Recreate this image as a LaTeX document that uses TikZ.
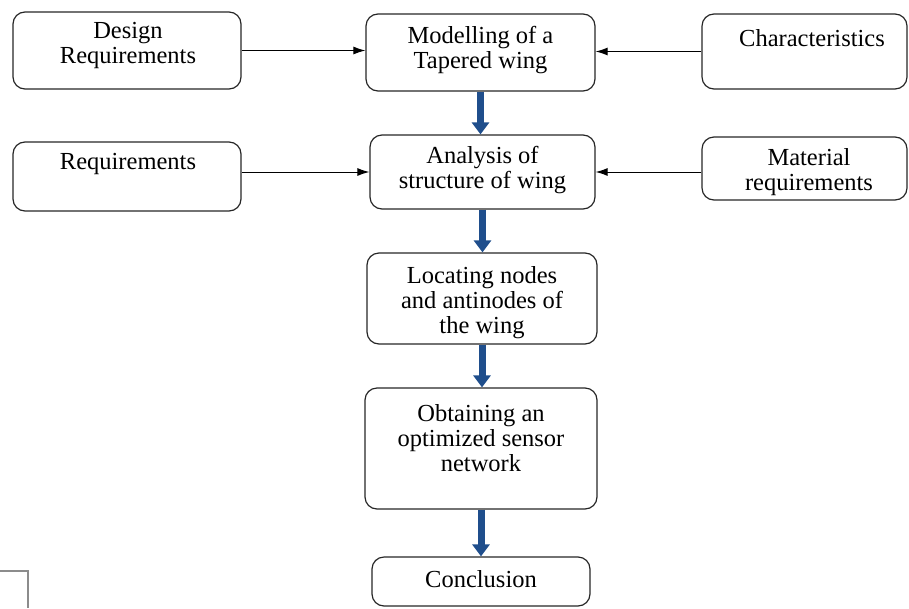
\documentclass[tikz,border=0pt]{standalone}
\usepackage{fontspec}
\setmainfont{Liberation Serif}
\usetikzlibrary{arrows.meta,positioning}

\definecolor{flowblue}{RGB}{31,78,140}
\tikzset{
  stage/.style={draw=black!85, line width=1.2pt, rounded corners=12pt},
  caption/.style={align=center, inner sep=0pt, font=\fontsize{24.5}{25}\selectfont},
  feed/.style={line width=1pt, -{Latex[length=12pt,width=8pt]}},
  flow/.style={draw=flowblue, line width=7pt, -{Triangle[length=12pt,width=17pt]}},
}

\begin{document}
\begin{tikzpicture}[x=1pt,y=-1pt]
	\useasboundingbox (0,0) rectangle (909,608);
	% boxes
	\node [stage, minimum width=228pt, minimum height=77pt] (design) at (127,50.5) {};
	\node [stage, minimum width=229pt, minimum height=77pt] (model) at (480.5,52.5) {};
	\node [stage, minimum width=205pt, minimum height=75pt] (charac) at (804.5,51.5) {};
	\node [stage, minimum width=228pt, minimum height=69pt] (req) at (127,176.5) {};
	\node [stage, minimum width=225pt, minimum height=74pt] (analysis) at (482.5,172) {};
	\node [stage, minimum width=205pt, minimum height=63pt] (material) at (804.5,168.5) {};
	\node [stage, minimum width=230pt, minimum height=91pt] (locate) at (482,298.5) {};
	\node [stage, minimum width=232pt, minimum height=121pt] (sensor) at (481,448.5) {};
	\node [stage, minimum width=218pt, minimum height=49pt] (concl) at (481,581.5) {};

	% texts
	\node [caption] (design-t) at (128,45) {Design\\Requirements};
	\node [caption] (model-t) at (480.5,50.5) {Modelling of a\\Tapered wing};
	\node [caption] (charac-t) at (812,38) {Characteristics};
	\node [caption] (req-t) at (128,164) {Requirements};
	\node [caption] (analysis-t) at (482.5,170.5) {Analysis of\\structure of wing};
	\node [caption] (material-t) at (809,172.5) {Material\\requirements};
	\node [caption] (locate-t) at (482,303) {Locating nodes\\and antinodes of\\the wing};
	\node [caption] (sensor-t) at (481,438) {Obtaining an\\optimized sensor\\network};
	\node [caption] (concl-t) at (481,579) {Conclusion};

	% inputs
	\draw [feed] (design.east) -- (design.east -| model.west);
	\draw [feed] (charac.west) -- (charac.west -| model.east);
	\draw [feed] (analysis.west -| req.east) -- (analysis.west);
	\draw [feed] (analysis.east -| material.west) -- (analysis.east);

	% main flow
	\draw [flow] (model.south) -- (model.south |- analysis.north);
	\draw [flow] (analysis.south) -- (analysis.south |- locate.north);
	\draw [flow] (locate.south) -- (locate.south |- sensor.north);
	\draw [flow] (sensor.south) -- (sensor.south |- concl.north);

	% page corner
	\coordinate (CornerA) at (0,571);
	\coordinate (CornerB) at (28,571);
	\coordinate (CornerC) at (28,608);
	\draw [black!45, line width=1.2pt] (CornerA) -- (CornerB) -- (CornerC);
\end{tikzpicture}
\end{document}
